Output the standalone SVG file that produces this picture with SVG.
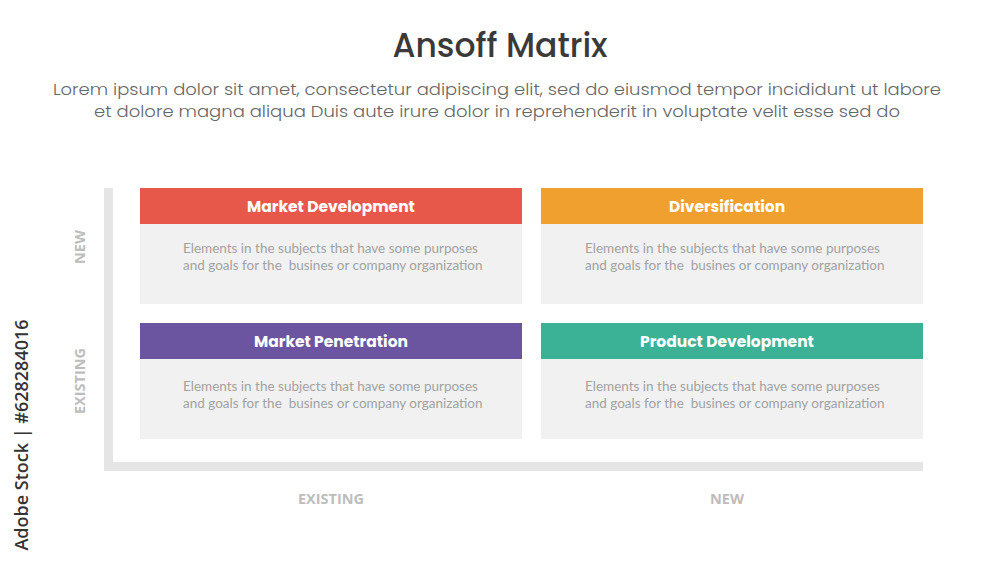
<svg xmlns="http://www.w3.org/2000/svg" width="1000" height="563" viewBox="0 0 1000 563">
<style>
.title{font-family:Poppins,"Open Sans","Liberation Sans",sans-serif;font-weight:500;font-size:33px;fill:#3a3a3a;text-anchor:middle}
.sub{font-family:Poppins,"Open Sans","Liberation Sans",sans-serif;font-weight:300;font-size:16.5px;fill:#666;text-anchor:middle}
.hdr{font-family:Poppins,"Open Sans","Liberation Sans",sans-serif;font-weight:700;font-size:15.5px;fill:#fff;text-anchor:middle}
.body{font-family:Lato,"Liberation Sans",sans-serif;font-weight:400;font-size:13.5px;fill:#a2a2a2;white-space:pre}
.card{fill:#f1f1f1}
.axis{fill:#e5e5e5}
.ax{font-family:"Open Sans","Liberation Sans",sans-serif;font-weight:700;font-size:14.5px;fill:#bdbdbd;text-anchor:middle}
.wm{font-family:"Open Sans","Liberation Sans",sans-serif;font-weight:600;font-size:18px;fill:#333;text-anchor:middle}
</style>
<rect width="1000" height="563" fill="#fff"/>
<text class="title" x="500" y="57">Ansoff Matrix</text>
<text class="sub" x="497" y="95" textLength="888" lengthAdjust="spacingAndGlyphs">Lorem ipsum dolor sit amet, consectetur adipiscing elit, sed do eiusmod tempor incididunt ut labore</text>
<text class="sub" x="497" y="117" textLength="806" lengthAdjust="spacingAndGlyphs">et dolore magna aliqua Duis aute irure dolor in reprehenderit in voluptate velit esse sed do</text>
<text class="wm" transform="translate(28,435) rotate(-90)">Adobe Stock | #628284016</text>
<g id="axes">
<rect class="axis" x="104" y="188" width="9" height="283"/>
<rect class="axis" x="104" y="462" width="819" height="9"/>
<text class="ax" transform="translate(85,247) rotate(-90)">NEW</text>
<text class="ax" transform="translate(85,381) rotate(-90)">EXISTING</text>
<text class="ax" x="331" y="504">EXISTING</text>
<text class="ax" x="727" y="504">NEW</text>
</g>
<g id="market-development">
<rect class="card" x="140" y="224" width="382" height="80"/>
<rect x="140" y="188" width="382" height="36" fill="#e8584a"/>
<text class="hdr" x="331" y="212">Market Development</text>
<text class="body" x="183" y="253">Elements in the subjects that have some purposes</text>
<text class="body" x="183" y="270">and goals for the  busines or company organization</text>
</g>
<g id="diversification">
<rect class="card" x="541" y="224" width="382" height="80"/>
<rect x="541" y="188" width="382" height="36" fill="#f0a02e"/>
<text class="hdr" x="727" y="212">Diversification</text>
<text class="body" x="585" y="253">Elements in the subjects that have some purposes</text>
<text class="body" x="585" y="270">and goals for the  busines or company organization</text>
</g>
<g id="market-penetration">
<rect class="card" x="140" y="359" width="382" height="80"/>
<rect x="140" y="323" width="382" height="36" fill="#6b55a0"/>
<text class="hdr" x="331" y="347">Market Penetration</text>
<text class="body" x="183" y="391">Elements in the subjects that have some purposes</text>
<text class="body" x="183" y="408">and goals for the  busines or company organization</text>
</g>
<g id="product-development">
<rect class="card" x="541" y="359" width="382" height="80"/>
<rect x="541" y="323" width="382" height="36" fill="#3bb196"/>
<text class="hdr" x="727" y="347">Product Development</text>
<text class="body" x="585" y="391">Elements in the subjects that have some purposes</text>
<text class="body" x="585" y="408">and goals for the  busines or company organization</text>
</g>
<g id="connectors"></g>
</svg>
